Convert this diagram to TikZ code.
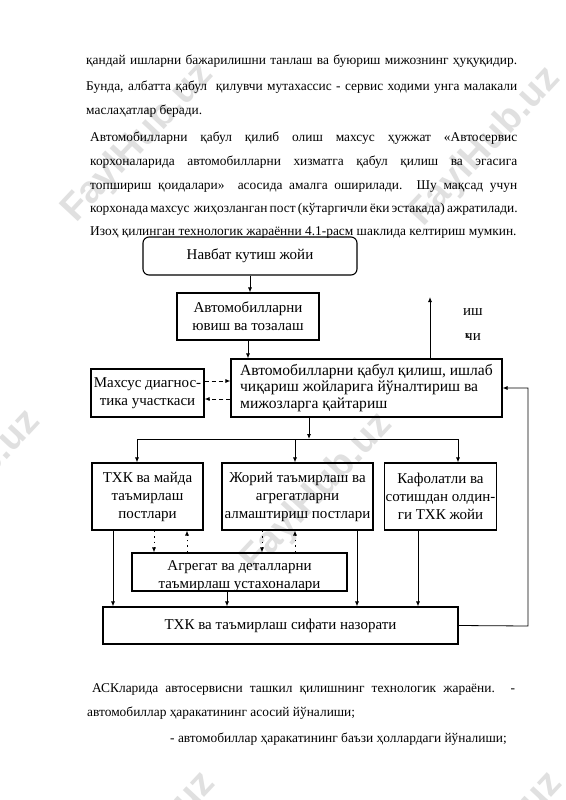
\documentclass[tikz,border=0pt]{standalone}
\usepackage{fontspec}
\setmainfont{Liberation Serif}
\newfontfamily\wmfont{Liberation Sans}
\usetikzlibrary{arrows.meta,positioning}
\tikzset{
    box/.style={draw, line width=1.1pt, inner sep=2pt, align=center, font=\fontsize{15}{18}\selectfont},
    arr/.style={line width=0.8pt, -{Latex[length=5pt,width=4pt]}},
    dsh/.style={arr, line width=1pt, dash pattern=on 4pt off 3pt},
    dot/.style={arr, dash pattern=on 1.5pt off 4pt},
    ln/.style={anchor=base west, inner sep=0pt, font=\fontsize{13.4}{16}\selectfont},
    wm/.style={rotate=47, text=black!12, font=\wmfont\bfseries\fontsize{38}{38}\selectfont},
}
\begin{document}
\begin{tikzpicture}[x=1pt,y=-1pt]
    \useasboundingbox (0,0) rectangle (565,800);
    \fill[white] (0,0) rectangle (565,800);

    \node[wm] (wm1) at (138,143) {FaylHub.uz};
    \node[wm] (wm2) at (485,147) {FaylHub.uz};
    \node[wm] (wm3) at (-35,490) {FaylHub.uz};
    \node[wm] (wm4) at (317,493) {FaylHub.uz};
    \node[wm] (wm5) at (140,852) {FaylHub.uz};
    \node[wm] (wm6) at (487,852) {FaylHub.uz};

    \node[ln] (l1) at (86,65) {\makebox[431pt][s]{қандай ишларни бажарилишни танлаш ва буюриш мижознинг ҳуқуқидир.}};
    \node[ln] (l2) at (86,90) {\makebox[431pt][s]{Бунда, албатта қабул\ \ қилувчи мутахассис - сервис ходими унга малакали}};
    \node[ln] (l3) at (86,114) {маслаҳатлар беради.};
    \node[ln] (l4) at (90,141) {\makebox[427pt][s]{Автомобилларни қабул қилиб олиш махсус ҳужжат «Автосервис}};
    \node[ln] (l5) at (90,165) {\makebox[427pt][s]{корхоналарида автомобилларни хизматга қабул қилиш ва эгасига}};
    \node[ln] (l6) at (90,189) {\makebox[427pt][s]{топшириш қоидалари»\ \ асосида амалга оширилади. Шу мақсад учун}};
    \node[ln] (l7) at (90,212) {\makebox[427pt][s]{корхонада махсус\ \ жиҳозланган пост (кўтаргичли ёки эстакада) ажратилади.}};
    \node[ln] (l8) at (90,235) {Изоҳ қилинган технологик жараённи 4.1-расм шаклида келтириш мумкин.};

    \node[box, rounded corners=6pt, minimum width=214pt, minimum height=38pt] (queue) at (250,256) {Навбат кутиш жойи};
    \node[box, minimum width=142pt, minimum height=47pt] (wash) at (248,316.5) {Автомобилларни\\ювиш ва тозалаш};
    \node[box, align=left, minimum width=271pt, minimum height=58pt, font=\fontsize{15.6}{16.5}\selectfont] (accept) at (366.5,388) {Автомобилларни қабул қилиш, ишлаб\\чиқариш жойларига йўналтириш ва\\мижозларга қайтариш};
    \node[box, minimum width=113pt, minimum height=48pt, inner sep=1pt] (diag) at (147.5,393) {Махсус диагнос-\\тика участкаси};
    \node[box, minimum width=111pt, minimum height=67pt] (to) at (147.5,496.5) {ТХК ва майда\\таъмирлаш\\постлари};
    \node[box, minimum width=151pt, minimum height=67pt, inner sep=1pt] (cur) at (297.5,496.5) {Жорий таъмирлаш ва\\агрегатларни\\алмаштириш постлари};
    \node[box, minimum width=109pt, minimum height=67pt, inner sep=1pt] (warr) at (440.5,496.5) {Кафолатли ва\\сотишдан олдин-\\ги ТХК жойи};
    \node[box, minimum width=215pt, minimum height=38pt] (shop) at (239.5,572) {};
    \node[font=\fontsize{15}{18}\selectfont, align=center] (shoptxt) at (239.5,576) {Агрегат ва деталларни\\таъмирлаш устахоналари};
    \node[box, minimum width=355pt, minimum height=37pt] (qc) at (280.5,625.5) {ТХК ва таъмирлаш сифати назорати};

    \node[font=\fontsize{15}{18}\selectfont] (w1) at (473,312) {иш};
    \node[font=\fontsize{15}{18}\selectfont] (w2) at (473,337) {\rlap{\raisebox{2pt}{\fontsize{10}{10}\selectfont к}}чи};

    \coordinate (up) at (430,297);
    \coordinate (split) at (309,439);
    \coordinate (bl) at (137,439);
    \coordinate (bm) at (295,439);
    \coordinate (br) at (458,439);
    \coordinate (fb) at (528,626);

    \draw[arr] (queue.south) -- (queue.south |- wash.north);
    \draw[arr] (wash.south) -- (wash.south |- accept.north);
    \draw[arr] (accept.north -| up) -- (up);
    \draw[dsh] ([yshift=12pt]diag.east) -- ([yshift=12pt]diag.east -| accept.west);
    \draw[dsh] ([yshift=-6pt]diag.east -| accept.west) -- ([yshift=-6pt]diag.east);
    \draw[arr] (accept.south -| split) -- (split);
    \draw[line width=0.8pt] (bl) -- (br);
    \draw[arr] (bl) -- (bl |- to.north);
    \draw[arr] (bm) -- (bm |- cur.north);
    \draw[arr] (br) -- (br |- warr.north);
    \draw[arr] (to.south -| 113,0) -- (qc.north -| 113,0);
    \draw[arr] (shop.south -| 227,0) -- (qc.north -| 227,0);
    \draw[arr] (cur.south -| 357,0) -- (qc.north -| 357,0);
    \draw[arr] (warr.south -| 418,0) -- (qc.north -| 418,0);
    \draw[dot] (to.south -| 154,0) -- (shop.north -| 154,0);
    \draw[dot] (shop.north -| 187,0) -- (to.south -| 187,0);
    \draw[dot] (cur.south -| 262,0) -- (shop.north -| 262,0);
    \draw[dot] (shop.north -| 295,0) -- (cur.south -| 295,0);
    \draw[arr] (qc.east) -- (fb) |- (accept.east);

    \node[ln] (b1) at (92,692) {\makebox[423pt][s]{АСКларида автосервисни ташкил қилишнинг технологик жараёни. -}};
    \node[ln] (b2) at (87,716) {автомобиллар ҳаракатининг асосий йўналиши;};
    \node[ln] (b3) at (170,742) {- автомобиллар ҳаракатининг баъзи ҳоллардаги йўналиши;};
\end{tikzpicture}
\end{document}
